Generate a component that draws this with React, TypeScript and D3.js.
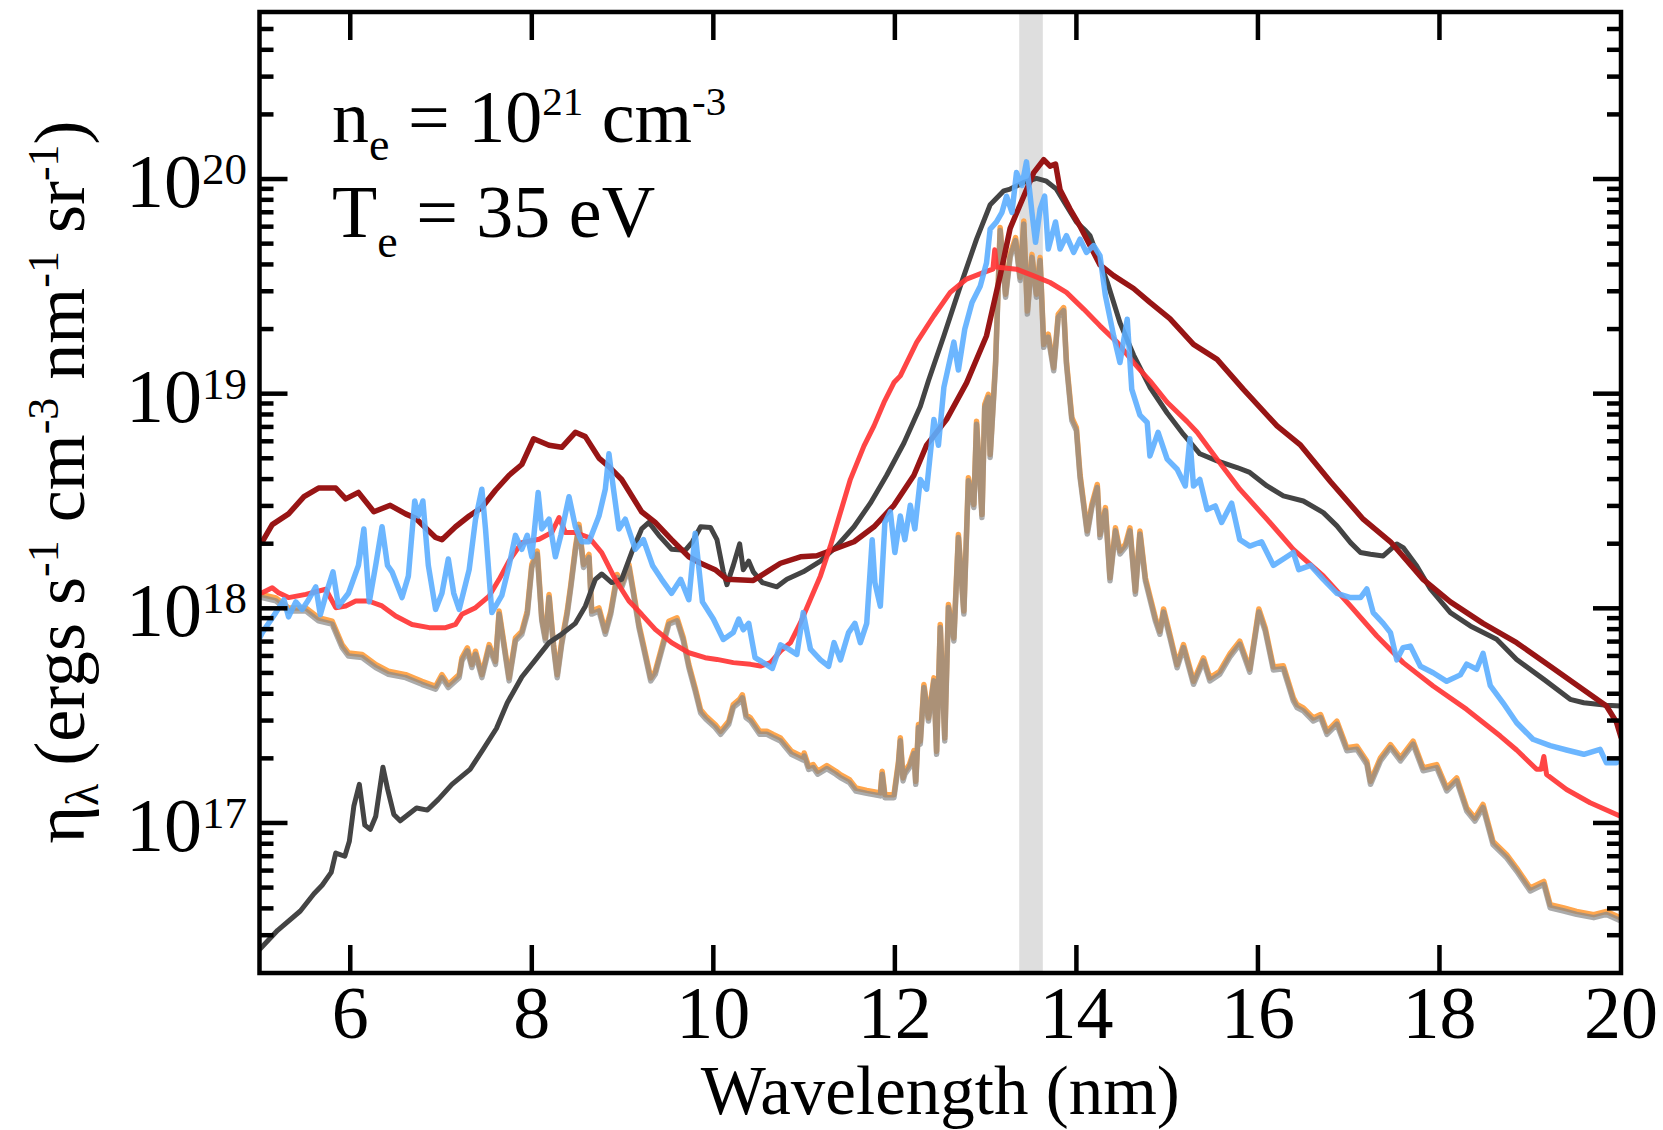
import React from "react";
import * as d3 from "d3";

const WIDTH = 1663;
const HEIGHT = 1130;
const FONT = "'Times New Roman', 'Liberation Serif', Times, serif";

const xDomain: [number, number] = [5, 20];
const yDomain: [number, number] = [2e16, 6e20];
const xTickValues = [6, 8, 10, 12, 14, 16, 18, 20];
const yDecadeExponents = [17, 18, 19, 20];
const euvBand: [number, number] = [13.37, 13.63];

// Each series: [wavelength (nm), log10(eta)]
const darkRedSeries: [number, number][] = [
  [5.0, 18.3], [5.03, 18.31], [5.14, 18.39], [5.32, 18.44], [5.49, 18.52], [5.65, 18.56], [5.84, 18.56],
  [5.95, 18.51], [6.09, 18.54], [6.26, 18.45], [6.44, 18.48], [6.61, 18.44], [6.72, 18.42], [6.94, 18.33],
  [7.01, 18.32], [7.16, 18.38], [7.31, 18.43], [7.45, 18.47], [7.6, 18.55], [7.75, 18.62], [7.89, 18.67],
  [8.02, 18.79], [8.19, 18.76], [8.33, 18.75], [8.48, 18.82], [8.59, 18.8], [8.74, 18.7], [8.85, 18.66],
  [8.99, 18.6], [9.21, 18.45], [9.36, 18.4], [9.54, 18.32], [9.73, 18.24], [9.86, 18.21], [10.02, 18.18],
  [10.15, 18.135], [10.44, 18.13], [10.59, 18.17], [10.74, 18.21], [10.96, 18.24], [11.14, 18.245],
  [11.33, 18.275], [11.55, 18.31], [11.77, 18.38], [11.99, 18.48], [12.21, 18.62], [12.35, 18.76],
  [12.57, 18.88], [12.79, 19.05], [13.01, 19.27], [13.16, 19.55], [13.27, 19.77], [13.42, 19.92],
  [13.53, 20.03], [13.64, 20.09], [13.71, 20.06], [13.77, 20.07], [13.82, 19.95], [13.93, 19.86],
  [14.04, 19.78], [14.15, 19.69], [14.26, 19.6], [14.41, 19.55], [14.63, 19.49], [14.81, 19.425],
  [15.03, 19.35], [15.29, 19.23], [15.55, 19.16], [15.84, 19.02], [16.21, 18.85], [16.47, 18.76],
  [16.8, 18.59], [17.16, 18.415], [17.46, 18.31], [17.82, 18.135], [18.12, 18.03], [18.48, 17.93],
  [18.85, 17.84], [19.22, 17.73], [19.59, 17.62], [19.84, 17.545], [19.95, 17.47], [20.0, 17.4],
];

const blackSeries: [number, number][] = [
  [5.0, 16.41], [5.2, 16.5], [5.45, 16.59], [5.6, 16.67], [5.69, 16.71], [5.79, 16.77], [5.84, 16.86],
  [5.94, 16.845], [5.99, 16.915], [6.04, 17.08], [6.1, 17.18], [6.16, 16.99], [6.22, 16.97], [6.28, 17.03],
  [6.36, 17.26], [6.41, 17.16], [6.48, 17.04], [6.55, 17.01], [6.73, 17.07], [6.85, 17.06], [6.97, 17.11],
  [7.12, 17.18], [7.32, 17.25], [7.46, 17.34], [7.61, 17.44], [7.73, 17.56], [7.89, 17.68], [8.04, 17.76],
  [8.19, 17.84], [8.33, 17.88], [8.48, 17.93], [8.59, 18.01], [8.7, 18.135], [8.77, 18.16], [8.88, 18.12],
  [8.99, 18.135], [9.1, 18.26], [9.21, 18.37], [9.29, 18.4], [9.4, 18.34], [9.54, 18.275], [9.69, 18.27],
  [9.77, 18.31], [9.86, 18.38], [9.97, 18.376], [10.04, 18.32], [10.11, 18.17], [10.15, 18.11],
  [10.22, 18.2], [10.29, 18.3], [10.33, 18.18], [10.39, 18.22], [10.44, 18.17], [10.54, 18.12],
  [10.7, 18.1], [10.81, 18.135], [10.99, 18.17], [11.18, 18.22], [11.36, 18.29], [11.55, 18.38],
  [11.73, 18.49], [11.91, 18.62], [12.1, 18.77], [12.28, 18.94], [12.37, 19.06], [12.54, 19.27],
  [12.72, 19.5], [12.9, 19.72], [13.05, 19.88], [13.2, 19.945], [13.27, 19.953], [13.42, 19.984],
  [13.56, 20.003], [13.67, 19.99], [13.78, 19.953], [13.89, 19.876], [14.0, 19.8], [14.1, 19.76],
  [14.15, 19.736], [14.23, 19.643], [14.34, 19.52], [14.48, 19.33], [14.63, 19.18], [14.81, 19.03],
  [15.0, 18.91], [15.18, 18.81], [15.36, 18.72], [15.55, 18.687], [15.77, 18.656], [15.91, 18.633],
  [16.1, 18.57], [16.28, 18.524], [16.5, 18.5], [16.72, 18.446], [16.87, 18.384], [17.02, 18.306],
  [17.13, 18.26], [17.24, 18.252], [17.38, 18.244], [17.53, 18.3], [17.6, 18.283], [17.75, 18.197],
  [17.9, 18.09], [18.12, 17.98], [18.34, 17.918], [18.63, 17.856], [18.85, 17.762], [19.15, 17.669],
  [19.44, 17.576], [19.59, 17.56], [19.84, 17.548], [20.0, 17.545],
];

const blueSeries: [number, number][] = [
  [5.0, 17.86], [5.03, 17.886], [5.18, 17.98], [5.27, 18.04], [5.32, 17.96], [5.4, 18.03], [5.47, 17.995],
  [5.54, 18.04], [5.62, 18.1], [5.67, 17.97], [5.75, 18.09], [5.81, 18.17], [5.87, 18.01], [5.98, 18.07],
  [6.09, 18.2], [6.15, 18.37], [6.21, 18.03], [6.28, 18.2], [6.35, 18.38], [6.41, 18.2], [6.46, 18.17],
  [6.57, 18.05], [6.64, 18.15], [6.71, 18.5], [6.75, 18.43], [6.8, 18.5], [6.86, 18.2], [6.94, 17.995],
  [7.01, 18.07], [7.08, 18.23], [7.14, 18.07], [7.2, 17.995], [7.31, 18.18], [7.38, 18.415], [7.45, 18.555],
  [7.49, 18.37], [7.56, 17.98], [7.67, 18.06], [7.75, 18.2], [7.82, 18.34], [7.89, 18.275], [7.95, 18.34],
  [8.0, 18.24], [8.07, 18.54], [8.11, 18.37], [8.19, 18.415], [8.26, 18.24], [8.32, 18.34], [8.41, 18.52],
  [8.48, 18.38], [8.55, 18.31], [8.63, 18.31], [8.74, 18.43], [8.81, 18.555], [8.85, 18.72], [8.9, 18.555],
  [8.96, 18.37], [9.03, 18.415], [9.14, 18.275], [9.23, 18.32], [9.33, 18.2], [9.43, 18.135], [9.54, 18.07],
  [9.64, 18.135], [9.73, 18.04], [9.8, 18.35], [9.88, 18.03], [10.0, 17.95], [10.11, 17.855], [10.22, 17.887],
  [10.28, 17.95], [10.33, 17.9], [10.39, 17.93], [10.46, 17.77], [10.55, 17.747], [10.65, 17.72],
  [10.74, 17.83], [10.83, 17.81], [10.92, 17.785], [10.99, 17.98], [11.07, 17.81], [11.18, 17.76],
  [11.27, 17.73], [11.33, 17.84], [11.4, 17.76], [11.49, 17.887], [11.56, 17.93], [11.62, 17.84],
  [11.69, 17.93], [11.75, 18.32], [11.78, 18.12], [11.84, 18.01], [11.89, 18.4], [11.95, 18.45],
  [12.0, 18.26], [12.06, 18.43], [12.11, 18.32], [12.17, 18.48], [12.22, 18.37], [12.28, 18.6],
  [12.35, 18.555], [12.43, 18.88], [12.48, 18.76], [12.54, 19.03], [12.65, 19.24], [12.7, 19.11],
  [12.77, 19.3], [12.85, 19.425], [12.94, 19.5], [13.01, 19.61], [13.05, 19.767], [13.12, 19.8],
  [13.18, 19.845], [13.23, 19.92], [13.29, 19.845], [13.34, 20.03], [13.4, 19.97], [13.45, 20.08],
  [13.51, 19.845], [13.55, 19.705], [13.6, 19.86], [13.65, 19.92], [13.69, 19.674], [13.77, 19.8],
  [13.82, 19.674], [13.89, 19.736], [13.97, 19.658], [14.04, 19.72], [14.11, 19.658], [14.19, 19.69],
  [14.26, 19.643], [14.32, 19.456], [14.41, 19.27], [14.48, 19.145], [14.56, 19.347], [14.61, 19.02],
  [14.7, 18.9], [14.78, 18.866], [14.81, 18.71], [14.9, 18.82], [15.0, 18.695], [15.11, 18.648],
  [15.2, 18.57], [15.25, 18.79], [15.29, 18.57], [15.36, 18.6], [15.44, 18.46], [15.53, 18.477],
  [15.6, 18.4], [15.71, 18.49], [15.8, 18.32], [15.91, 18.29], [16.04, 18.31], [16.17, 18.2], [16.28, 18.23],
  [16.39, 18.26], [16.45, 18.18], [16.58, 18.2], [16.72, 18.135], [16.87, 18.07], [17.02, 18.05],
  [17.13, 18.05], [17.2, 18.09], [17.27, 17.98], [17.38, 17.93], [17.46, 17.887], [17.53, 17.76],
  [17.6, 17.817], [17.68, 17.824], [17.79, 17.73], [17.93, 17.7], [18.08, 17.66], [18.23, 17.69],
  [18.3, 17.74], [18.41, 17.716], [18.48, 17.79], [18.56, 17.64], [18.7, 17.56], [18.85, 17.467],
  [19.03, 17.39], [19.22, 17.36], [19.4, 17.34], [19.59, 17.32], [19.77, 17.343], [19.84, 17.28],
  [19.95, 17.28], [20.0, 17.3],
];

const redSeries: [number, number][] = [
  [5.0, 18.07], [5.03, 18.073], [5.14, 18.096], [5.21, 18.073], [5.32, 18.05], [5.51, 18.065], [5.73, 18.089],
  [5.84, 18.003], [5.95, 18.011], [6.06, 18.034], [6.2, 18.034], [6.35, 18.011], [6.5, 17.964], [6.68, 17.925],
  [6.87, 17.91], [7.05, 17.91], [7.16, 17.925], [7.23, 17.972], [7.38, 18.003], [7.53, 18.057], [7.64, 18.135],
  [7.75, 18.221], [7.89, 18.306], [8.08, 18.322], [8.22, 18.353], [8.3, 18.423], [8.37, 18.353], [8.48, 18.353],
  [8.63, 18.33], [8.77, 18.26], [8.92, 18.135], [9.07, 18.034], [9.21, 17.972], [9.36, 17.902], [9.54, 17.84],
  [9.73, 17.793], [9.91, 17.77], [10.04, 17.762], [10.22, 17.747], [10.41, 17.739], [10.52, 17.731],
  [10.63, 17.747], [10.74, 17.801], [10.85, 17.84], [10.96, 17.933], [11.07, 18.042], [11.18, 18.151],
  [11.29, 18.291], [11.4, 18.446], [11.51, 18.601], [11.66, 18.757], [11.77, 18.85], [11.88, 18.959],
  [11.99, 19.052], [12.06, 19.083], [12.24, 19.239], [12.43, 19.363], [12.61, 19.472], [12.79, 19.534],
  [12.98, 19.565], [13.08, 19.58], [13.1, 19.67], [13.12, 19.59], [13.16, 19.588], [13.34, 19.58],
  [13.53, 19.549], [13.71, 19.518], [13.89, 19.472], [14.08, 19.394], [14.26, 19.316], [14.45, 19.239],
  [14.63, 19.145], [14.81, 19.06], [15.0, 18.96], [15.22, 18.87], [15.33, 18.82], [15.55, 18.695],
  [15.8, 18.555], [16.1, 18.415], [16.39, 18.275], [16.72, 18.151], [17.02, 18.011], [17.31, 17.871],
  [17.6, 17.747], [17.93, 17.638], [18.3, 17.529], [18.67, 17.405], [18.85, 17.34], [19.07, 17.25],
  [19.12, 17.25], [19.15, 17.31], [19.18, 17.226], [19.4, 17.156], [19.66, 17.094], [20.0, 17.03],
];

const orangeGraySeries: [number, number][] = [
  [5.0, 18.06], [5.03, 18.057], [5.18, 18.042], [5.32, 17.995], [5.51, 17.995], [5.65, 17.949], [5.8, 17.933],
  [5.91, 17.824], [5.98, 17.785], [6.13, 17.778], [6.28, 17.731], [6.42, 17.7], [6.61, 17.684], [6.79, 17.653],
  [6.94, 17.63], [7.01, 17.684], [7.08, 17.638], [7.2, 17.684], [7.23, 17.762], [7.29, 17.809], [7.34, 17.731],
  [7.38, 17.793], [7.45, 17.684], [7.53, 17.824], [7.6, 17.746], [7.64, 17.98], [7.69, 17.84], [7.75, 17.669],
  [7.82, 17.855], [7.89, 17.886], [7.95, 17.98], [8.0, 18.197], [8.06, 18.26], [8.11, 17.949], [8.15, 17.855],
  [8.19, 18.057], [8.24, 17.824], [8.28, 17.684], [8.33, 17.84], [8.39, 17.98], [8.43, 18.104], [8.48, 18.275],
  [8.52, 18.384], [8.57, 18.197], [8.63, 18.244], [8.66, 17.98], [8.74, 17.995], [8.81, 17.886], [8.87, 17.98],
  [8.94, 18.151], [8.99, 18.104], [9.07, 18.197], [9.12, 18.073], [9.18, 17.918], [9.23, 17.824], [9.31, 17.669],
  [9.36, 17.7], [9.42, 17.793], [9.51, 17.933], [9.6, 17.949], [9.67, 17.855], [9.73, 17.731], [9.8, 17.622],
  [9.86, 17.52], [9.92, 17.49], [10.02, 17.452], [10.08, 17.42], [10.17, 17.467], [10.22, 17.545],
  [10.29, 17.57], [10.32, 17.59], [10.36, 17.498], [10.41, 17.482], [10.51, 17.42], [10.59, 17.42],
  [10.66, 17.405], [10.74, 17.389], [10.86, 17.327], [10.99, 17.3], [11.0, 17.319], [11.05, 17.257],
  [11.1, 17.265], [11.15, 17.234], [11.25, 17.26], [11.35, 17.234], [11.4, 17.218], [11.5, 17.195],
  [11.57, 17.156], [11.69, 17.145], [11.84, 17.133], [11.86, 17.234], [11.89, 17.125], [11.99, 17.125],
  [12.04, 17.28], [12.06, 17.39], [12.09, 17.203], [12.11, 17.234], [12.16, 17.265], [12.21, 17.33],
  [12.23, 17.187], [12.26, 17.452], [12.28, 17.374], [12.32, 17.638], [12.37, 17.482], [12.43, 17.669],
  [12.46, 17.327], [12.5, 17.918], [12.55, 17.389], [12.59, 18.011], [12.65, 17.855], [12.7, 18.337],
  [12.76, 17.98], [12.81, 18.601], [12.87, 18.477], [12.9, 18.865], [12.96, 18.43], [12.99, 18.943],
  [13.03, 18.99], [13.05, 18.71], [13.11, 19.145], [13.16, 19.767], [13.22, 19.456], [13.27, 19.642],
  [13.33, 19.72], [13.38, 19.534], [13.42, 19.798], [13.46, 19.378], [13.51, 19.642], [13.56, 19.456],
  [13.6, 19.627], [13.64, 19.223], [13.69, 19.27], [13.75, 19.114], [13.8, 19.363], [13.86, 19.394],
  [13.89, 19.145], [13.95, 18.881], [14.0, 18.835], [14.04, 18.617], [14.12, 18.353], [14.17, 18.477],
  [14.23, 18.57], [14.26, 18.337], [14.32, 18.462], [14.37, 18.135], [14.43, 18.368], [14.48, 18.26],
  [14.54, 18.291], [14.59, 18.368], [14.65, 18.073], [14.7, 18.353], [14.76, 18.135], [14.81, 18.05],
  [14.87, 17.949], [14.92, 17.886], [14.96, 17.99], [15.03, 17.871], [15.11, 17.73], [15.18, 17.824],
  [15.29, 17.653], [15.4, 17.762], [15.47, 17.669], [15.58, 17.7], [15.69, 17.78], [15.8, 17.84],
  [15.91, 17.71], [16.01, 17.99], [16.08, 17.902], [16.17, 17.72], [16.28, 17.725], [16.39, 17.576],
  [16.43, 17.545], [16.5, 17.529], [16.61, 17.482], [16.69, 17.498], [16.76, 17.42], [16.87, 17.467],
  [16.98, 17.343], [17.09, 17.35], [17.2, 17.28], [17.24, 17.187], [17.35, 17.296], [17.46, 17.358],
  [17.57, 17.296], [17.71, 17.374], [17.82, 17.25], [17.97, 17.265], [18.08, 17.156], [18.19, 17.203],
  [18.3, 17.063], [18.39, 17.016], [18.48, 17.079], [18.59, 16.907], [18.74, 16.845], [18.85, 16.783],
  [19.0, 16.69], [19.15, 16.721], [19.22, 16.612], [19.37, 16.597], [19.51, 16.581], [19.7, 16.566],
  [19.84, 16.581], [20.0, 16.55],
];

const PLOT = { left: 259.5, right: 1621, top: 12, bottom: 973 };

export default function App() {
  const x = d3.scaleLinear().domain(xDomain).range([PLOT.left, PLOT.right]);
  const y = d3.scaleLog().domain(yDomain).range([PLOT.bottom, PLOT.top]);
  const line = d3
    .line<[number, number]>()
    .x((d) => x(d[0]))
    .y((d) => y(Math.pow(10, d[1])));

  const majorY = yDecadeExponents.map((e) => Math.pow(10, e));
  const minorY: number[] = [];
  for (let e = 16; e <= 20; e++) {
    for (let m = 2; m <= 9; m++) {
      const v = m * Math.pow(10, e);
      if (v > yDomain[0] * 1.001 && v < yDomain[1] * 0.999) minorY.push(v);
    }
  }

  const tickW = 4.5;
  const majorLen = 28;
  const minorLen = 14;

  return (
    <svg
      width={WIDTH}
      height={HEIGHT}
      style={{ position: "absolute", left: 0, top: 0, background: "#fff" }}
      fontFamily={FONT}
    >
      <defs>
        <clipPath id="plotClip">
          <rect x={PLOT.left} y={PLOT.top} width={PLOT.right - PLOT.left} height={PLOT.bottom - PLOT.top} />
        </clipPath>
      </defs>
      <rect x={0} y={0} width={WIDTH} height={HEIGHT} fill="#fff" />

      {/* EUV band */}
      <rect
        x={x(euvBand[0])}
        y={PLOT.top}
        width={x(euvBand[1]) - x(euvBand[0])}
        height={PLOT.bottom - PLOT.top}
        fill="#dedede"
      />

      <g clipPath="url(#plotClip)" fill="none" strokeLinejoin="round" strokeLinecap="round">
        <path d={line(orangeGraySeries) || ""} stroke="#ffa64d" strokeWidth={5.5} transform="translate(0,-1.5)" />
        <path d={line(orangeGraySeries) || ""} stroke="#888888" strokeOpacity={0.71} strokeWidth={5.5} transform="translate(0,1.5)" />
        <path d={line(blackSeries) || ""} stroke="#444444" strokeWidth={5} />
        <path d={line(darkRedSeries) || ""} stroke="#981515" strokeWidth={5.5} />
        <path d={line(redSeries) || ""} stroke="#ff3535" strokeOpacity={0.92} strokeWidth={5} />
        <path d={line(blueSeries) || ""} stroke="#5caeff" strokeOpacity={0.9} strokeWidth={5.5} />
      </g>

      {/* ticks */}
      <g stroke="#000" strokeWidth={tickW}>
        {xTickValues.filter((v) => v < xDomain[1]).map((v) => (
          <g key={"xt" + v}>
            <line x1={x(v)} x2={x(v)} y1={PLOT.bottom} y2={PLOT.bottom - majorLen} />
            <line x1={x(v)} x2={x(v)} y1={PLOT.top} y2={PLOT.top + majorLen} />
          </g>
        ))}
        {majorY.map((v) => (
          <g key={"ym" + v}>
            <line x1={PLOT.left} x2={PLOT.left + majorLen} y1={y(v)} y2={y(v)} />
            <line x1={PLOT.right} x2={PLOT.right - majorLen} y1={y(v)} y2={y(v)} />
          </g>
        ))}
        {minorY.map((v) => (
          <g key={"yn" + v}>
            <line x1={PLOT.left} x2={PLOT.left + minorLen} y1={y(v)} y2={y(v)} />
            <line x1={PLOT.right} x2={PLOT.right - minorLen} y1={y(v)} y2={y(v)} />
          </g>
        ))}
      </g>

      {/* frame */}
      <rect
        x={PLOT.left}
        y={PLOT.top}
        width={PLOT.right - PLOT.left}
        height={PLOT.bottom - PLOT.top}
        fill="none"
        stroke="#000"
        strokeWidth={4.5}
      />

      {/* x tick labels */}
      {xTickValues.map((v) => (
        <text key={"xl" + v} x={x(v)} y={1038} fontSize={74} textAnchor="middle" fill="#000">
          {v}
        </text>
      ))}

      {/* y tick labels */}
      {yDecadeExponents.map((e) => (
        <text key={"yl" + e} x={247} y={y(Math.pow(10, e)) + 28} fontSize={76} textAnchor="end" fill="#000">
          10
          <tspan dy={-23} fontSize={45}>
            {e}
          </tspan>
        </text>
      ))}

      {/* axis titles */}
      <text x={(PLOT.left + PLOT.right) / 2} y={1114} fontSize={69} textAnchor="middle" fill="#000">
        Wavelength (nm)
      </text>
      <text transform="translate(84,482) rotate(-90)" fontSize={72} textAnchor="middle" fill="#000">
        η
        <tspan dy={14} fontSize={46}>λ</tspan>
        <tspan dy={-14}>{" (ergs s"}</tspan>
        <tspan dy={-26} fontSize={44}>-1</tspan>
        <tspan dy={26}>{" cm"}</tspan>
        <tspan dy={-26} fontSize={44}>-3</tspan>
        <tspan dy={26}>{" nm"}</tspan>
        <tspan dy={-26} fontSize={44}>-1</tspan>
        <tspan dy={26}>{" sr"}</tspan>
        <tspan dy={-26} fontSize={44}>-1</tspan>
        <tspan dy={26}>{")"}</tspan>
      </text>

      {/* annotation */}
      <text x={332} y={142} fontSize={74} fill="#000">
        n
        <tspan dy={18} fontSize={46}>e</tspan>
        <tspan dy={-18}>{" = 10"}</tspan>
        <tspan dy={-27} fontSize={41}>21</tspan>
        <tspan dy={27}>{" cm"}</tspan>
        <tspan dy={-27} fontSize={41}>-3</tspan>
      </text>
      <text x={332} y={237} fontSize={74} fill="#000">
        T
        <tspan dy={20} fontSize={46}>e</tspan>
        <tspan dy={-20}>{" = 35 eV"}</tspan>
      </text>
    </svg>
  );
}
